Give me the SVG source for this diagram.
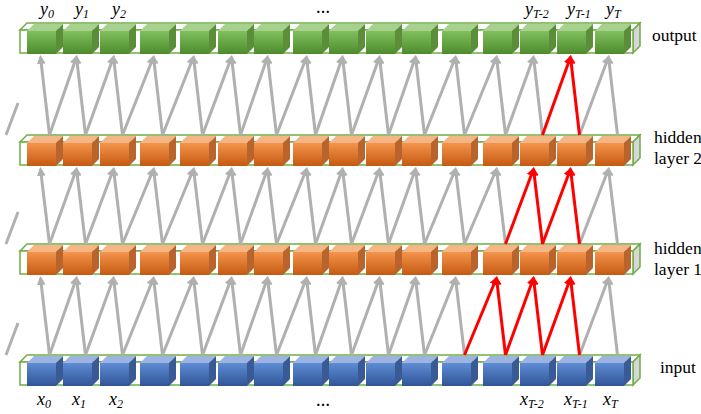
<svg xmlns="http://www.w3.org/2000/svg" xmlns:xlink="http://www.w3.org/1999/xlink" width="701" height="414" viewBox="0 0 701 414">
<defs>
<linearGradient id="gG" x1="0" y1="0" x2="0" y2="1"><stop offset="0" stop-color="#80c05e"/><stop offset="1" stop-color="#4e8a2d"/></linearGradient>
<linearGradient id="gO" x1="0" y1="0" x2="0" y2="1"><stop offset="0" stop-color="#f4944c"/><stop offset="1" stop-color="#c55a11"/></linearGradient>
<linearGradient id="gB" x1="0" y1="0" x2="0" y2="1"><stop offset="0" stop-color="#5f8cd4"/><stop offset="1" stop-color="#2f5597"/></linearGradient>
<g id="cubeG"><polygon points="0,0 7,-7 36,-7 29,0" fill="#a9d18e"/><polygon points="29,0 36,-7 36,16 29,23" fill="#5a8e38"/><rect x="0" y="0" width="29" height="23" fill="url(#gG)"/></g>
<g id="cubeO"><polygon points="0,0 7,-7 36,-7 29,0" fill="#f6b585"/><polygon points="29,0 36,-7 36,16 29,23" fill="#b8642c"/><rect x="0" y="0" width="29" height="23" fill="url(#gO)"/></g>
<g id="cubeB"><polygon points="0,0 7,-7 36,-7 29,0" fill="#9db4e0"/><polygon points="29,0 36,-7 36,16 29,23" fill="#3a5a96"/><rect x="0" y="0" width="29" height="23" fill="url(#gB)"/></g>
<g id="tray"><polygon points="20,-1 27,-8 640,-8 633,-1" fill="#ffffff" stroke="#70ad47" stroke-width="1.5"/><polygon points="633,-1 640,-8 640,15 633,22" fill="#d6d6d6" stroke="#70ad47" stroke-width="1.5"/><rect x="20" y="-1" width="613" height="23" fill="#ffffff" stroke="#70ad47" stroke-width="1.5"/></g>
<marker id="ag" markerUnits="userSpaceOnUse" markerWidth="10" markerHeight="10" refX="7" refY="4.5" orient="auto"><path d="M0,0 L9,4.5 L0,9 Z" fill="#b0b0b0"/></marker>
<marker id="ar" markerUnits="userSpaceOnUse" markerWidth="10" markerHeight="10" refX="7" refY="4.5" orient="auto"><path d="M0,0 L9,4.5 L0,9 Z" fill="#ff0000"/></marker>
</defs>
<style>
.g{stroke:#b0b0b0;stroke-width:3;fill:none;marker-end:url(#ag)}
.s{stroke:#b0b0b0;stroke-width:3;fill:none}
.r{stroke:#ff0000;stroke-width:3;fill:none;marker-end:url(#ar)}
.lbl{font-style:italic;font-size:18px;fill:#000}
.sub{font-size:12px}
.dots{font-size:14px;font-weight:bold;fill:#000}
.nm{font-size:17.5px;fill:#000}
</style>

<g id="row-output" transform="translate(0,31)">
<use xlink:href="#tray"/>
<use id="y1" xlink:href="#cubeG" x="27"/><use id="y2" xlink:href="#cubeG" x="63"/><use id="y3" xlink:href="#cubeG" x="100"/><use id="y4" xlink:href="#cubeG" x="140"/><use id="y5" xlink:href="#cubeG" x="180"/><use id="y6" xlink:href="#cubeG" x="218"/><use id="y7" xlink:href="#cubeG" x="254"/><use id="y8" xlink:href="#cubeG" x="293"/><use id="y9" xlink:href="#cubeG" x="329"/><use id="y10" xlink:href="#cubeG" x="366"/><use id="y11" xlink:href="#cubeG" x="402"/><use id="y12" xlink:href="#cubeG" x="442"/><use id="y13" xlink:href="#cubeG" x="483"/><use id="y14" xlink:href="#cubeG" x="520"/><use id="y15" xlink:href="#cubeG" x="557"/><use id="y16" xlink:href="#cubeG" x="595"/>
</g>
<g id="row-hidden2" transform="translate(0,143)">
<use xlink:href="#tray"/>
<use id="h2-1" xlink:href="#cubeO" x="27"/><use id="h2-2" xlink:href="#cubeO" x="63"/><use id="h2-3" xlink:href="#cubeO" x="100"/><use id="h2-4" xlink:href="#cubeO" x="140"/><use id="h2-5" xlink:href="#cubeO" x="180"/><use id="h2-6" xlink:href="#cubeO" x="218"/><use id="h2-7" xlink:href="#cubeO" x="254"/><use id="h2-8" xlink:href="#cubeO" x="293"/><use id="h2-9" xlink:href="#cubeO" x="329"/><use id="h2-10" xlink:href="#cubeO" x="366"/><use id="h2-11" xlink:href="#cubeO" x="402"/><use id="h2-12" xlink:href="#cubeO" x="442"/><use id="h2-13" xlink:href="#cubeO" x="483"/><use id="h2-14" xlink:href="#cubeO" x="520"/><use id="h2-15" xlink:href="#cubeO" x="557"/><use id="h2-16" xlink:href="#cubeO" x="595"/>
</g>
<g id="row-hidden1" transform="translate(0,252)">
<use xlink:href="#tray"/>
<use id="h1-1" xlink:href="#cubeO" x="27"/><use id="h1-2" xlink:href="#cubeO" x="63"/><use id="h1-3" xlink:href="#cubeO" x="100"/><use id="h1-4" xlink:href="#cubeO" x="140"/><use id="h1-5" xlink:href="#cubeO" x="180"/><use id="h1-6" xlink:href="#cubeO" x="218"/><use id="h1-7" xlink:href="#cubeO" x="254"/><use id="h1-8" xlink:href="#cubeO" x="293"/><use id="h1-9" xlink:href="#cubeO" x="329"/><use id="h1-10" xlink:href="#cubeO" x="366"/><use id="h1-11" xlink:href="#cubeO" x="402"/><use id="h1-12" xlink:href="#cubeO" x="442"/><use id="h1-13" xlink:href="#cubeO" x="483"/><use id="h1-14" xlink:href="#cubeO" x="520"/><use id="h1-15" xlink:href="#cubeO" x="557"/><use id="h1-16" xlink:href="#cubeO" x="595"/>
</g>
<g id="row-input" transform="translate(0,363)">
<use xlink:href="#tray"/>
<use id="x1" xlink:href="#cubeB" x="27"/><use id="x2" xlink:href="#cubeB" x="63"/><use id="x3" xlink:href="#cubeB" x="100"/><use id="x4" xlink:href="#cubeB" x="140"/><use id="x5" xlink:href="#cubeB" x="180"/><use id="x6" xlink:href="#cubeB" x="218"/><use id="x7" xlink:href="#cubeB" x="254"/><use id="x8" xlink:href="#cubeB" x="293"/><use id="x9" xlink:href="#cubeB" x="329"/><use id="x10" xlink:href="#cubeB" x="366"/><use id="x11" xlink:href="#cubeB" x="402"/><use id="x12" xlink:href="#cubeB" x="442"/><use id="x13" xlink:href="#cubeB" x="483"/><use id="x14" xlink:href="#cubeB" x="520"/><use id="x15" xlink:href="#cubeB" x="557"/><use id="x16" xlink:href="#cubeB" x="595"/>
</g>

<g id="connectors">
<g>
<line class="s" x1="6" y1="355" x2="18" y2="323"/>
<line class="g" x1="49.5" y1="355" x2="40.5" y2="278"/><line class="g" x1="85.5" y1="355" x2="76.5" y2="278"/><line class="g" x1="122.5" y1="355" x2="113.5" y2="278"/><line class="g" x1="162.5" y1="355" x2="153.5" y2="278"/><line class="g" x1="202.5" y1="355" x2="193.5" y2="278"/><line class="g" x1="240.5" y1="355" x2="231.5" y2="278"/><line class="g" x1="276.5" y1="355" x2="267.5" y2="278"/><line class="g" x1="315.5" y1="355" x2="306.5" y2="278"/><line class="g" x1="351.5" y1="355" x2="342.5" y2="278"/><line class="g" x1="388.5" y1="355" x2="379.5" y2="278"/><line class="g" x1="424.5" y1="355" x2="415.5" y2="278"/><line class="g" x1="464.5" y1="355" x2="455.5" y2="278"/><line class="g" x1="617.5" y1="355" x2="608.5" y2="278"/>
<line class="g" x1="49.5" y1="355" x2="76.5" y2="278"/><line class="g" x1="85.5" y1="355" x2="113.5" y2="278"/><line class="g" x1="122.5" y1="355" x2="153.5" y2="278"/><line class="g" x1="162.5" y1="355" x2="193.5" y2="278"/><line class="g" x1="202.5" y1="355" x2="231.5" y2="278"/><line class="g" x1="240.5" y1="355" x2="267.5" y2="278"/><line class="g" x1="276.5" y1="355" x2="306.5" y2="278"/><line class="g" x1="315.5" y1="355" x2="342.5" y2="278"/><line class="g" x1="351.5" y1="355" x2="379.5" y2="278"/><line class="g" x1="388.5" y1="355" x2="415.5" y2="278"/><line class="g" x1="424.5" y1="355" x2="455.5" y2="278"/><line class="g" x1="579.5" y1="355" x2="608.5" y2="278"/>
<line class="r" x1="464.5" y1="355" x2="496.5" y2="278"/><line class="r" x1="505.5" y1="355" x2="496.5" y2="278"/><line class="r" x1="505.5" y1="355" x2="533.5" y2="278"/><line class="r" x1="542.5" y1="355" x2="533.5" y2="278"/><line class="r" x1="542.5" y1="355" x2="570.5" y2="278"/><line class="r" x1="579.5" y1="355" x2="570.5" y2="278"/>
</g>
<g>
<line class="s" x1="6" y1="244" x2="18" y2="212"/>
<line class="g" x1="49.5" y1="244" x2="40.5" y2="169"/><line class="g" x1="85.5" y1="244" x2="76.5" y2="169"/><line class="g" x1="122.5" y1="244" x2="113.5" y2="169"/><line class="g" x1="162.5" y1="244" x2="153.5" y2="169"/><line class="g" x1="202.5" y1="244" x2="193.5" y2="169"/><line class="g" x1="240.5" y1="244" x2="231.5" y2="169"/><line class="g" x1="276.5" y1="244" x2="267.5" y2="169"/><line class="g" x1="315.5" y1="244" x2="306.5" y2="169"/><line class="g" x1="351.5" y1="244" x2="342.5" y2="169"/><line class="g" x1="388.5" y1="244" x2="379.5" y2="169"/><line class="g" x1="424.5" y1="244" x2="415.5" y2="169"/><line class="g" x1="464.5" y1="244" x2="455.5" y2="169"/><line class="g" x1="505.5" y1="244" x2="496.5" y2="169"/><line class="g" x1="617.5" y1="244" x2="608.5" y2="169"/>
<line class="g" x1="49.5" y1="244" x2="76.5" y2="169"/><line class="g" x1="85.5" y1="244" x2="113.5" y2="169"/><line class="g" x1="122.5" y1="244" x2="153.5" y2="169"/><line class="g" x1="162.5" y1="244" x2="193.5" y2="169"/><line class="g" x1="202.5" y1="244" x2="231.5" y2="169"/><line class="g" x1="240.5" y1="244" x2="267.5" y2="169"/><line class="g" x1="276.5" y1="244" x2="306.5" y2="169"/><line class="g" x1="315.5" y1="244" x2="342.5" y2="169"/><line class="g" x1="351.5" y1="244" x2="379.5" y2="169"/><line class="g" x1="388.5" y1="244" x2="415.5" y2="169"/><line class="g" x1="424.5" y1="244" x2="455.5" y2="169"/><line class="g" x1="464.5" y1="244" x2="496.5" y2="169"/><line class="g" x1="579.5" y1="244" x2="608.5" y2="169"/>
<line class="r" x1="505.5" y1="244" x2="533.5" y2="169"/><line class="r" x1="542.5" y1="244" x2="533.5" y2="169"/><line class="r" x1="542.5" y1="244" x2="570.5" y2="169"/><line class="r" x1="579.5" y1="244" x2="570.5" y2="169"/>
</g>
<g>
<line class="s" x1="6" y1="135" x2="18" y2="103"/>
<line class="g" x1="49.5" y1="135" x2="40.5" y2="57"/><line class="g" x1="85.5" y1="135" x2="76.5" y2="57"/><line class="g" x1="122.5" y1="135" x2="113.5" y2="57"/><line class="g" x1="162.5" y1="135" x2="153.5" y2="57"/><line class="g" x1="202.5" y1="135" x2="193.5" y2="57"/><line class="g" x1="240.5" y1="135" x2="231.5" y2="57"/><line class="g" x1="276.5" y1="135" x2="267.5" y2="57"/><line class="g" x1="315.5" y1="135" x2="306.5" y2="57"/><line class="g" x1="351.5" y1="135" x2="342.5" y2="57"/><line class="g" x1="388.5" y1="135" x2="379.5" y2="57"/><line class="g" x1="424.5" y1="135" x2="415.5" y2="57"/><line class="g" x1="464.5" y1="135" x2="455.5" y2="57"/><line class="g" x1="505.5" y1="135" x2="496.5" y2="57"/><line class="g" x1="542.5" y1="135" x2="533.5" y2="57"/><line class="g" x1="617.5" y1="135" x2="608.5" y2="57"/>
<line class="g" x1="49.5" y1="135" x2="76.5" y2="57"/><line class="g" x1="85.5" y1="135" x2="113.5" y2="57"/><line class="g" x1="122.5" y1="135" x2="153.5" y2="57"/><line class="g" x1="162.5" y1="135" x2="193.5" y2="57"/><line class="g" x1="202.5" y1="135" x2="231.5" y2="57"/><line class="g" x1="240.5" y1="135" x2="267.5" y2="57"/><line class="g" x1="276.5" y1="135" x2="306.5" y2="57"/><line class="g" x1="315.5" y1="135" x2="342.5" y2="57"/><line class="g" x1="351.5" y1="135" x2="379.5" y2="57"/><line class="g" x1="388.5" y1="135" x2="415.5" y2="57"/><line class="g" x1="424.5" y1="135" x2="455.5" y2="57"/><line class="g" x1="464.5" y1="135" x2="496.5" y2="57"/><line class="g" x1="505.5" y1="135" x2="533.5" y2="57"/><line class="g" x1="579.5" y1="135" x2="608.5" y2="57"/>
<line class="r" x1="542.5" y1="135" x2="570.5" y2="57"/><line class="r" x1="579.5" y1="135" x2="570.5" y2="57"/>
</g>
</g>

<g id="labels-top" font-family="Liberation Serif, DejaVu Serif, serif">
<text class="lbl" x="40" y="15">y<tspan class="sub" dy="3">0</tspan></text>
<text class="lbl" x="75" y="15">y<tspan class="sub" dy="3">1</tspan></text>
<text class="lbl" x="112" y="15">y<tspan class="sub" dy="3">2</tspan></text>
<text class="dots" x="323" y="13" text-anchor="middle">…</text>
<text class="lbl" x="525" y="15">y<tspan class="sub" dy="3">T-2</tspan></text>
<text class="lbl" x="567" y="15">y<tspan class="sub" dy="3">T-1</tspan></text>
<text class="lbl" x="606" y="15">y<tspan class="sub" dy="3">T</tspan></text>
</g>
<g id="labels-bottom" font-family="Liberation Serif, DejaVu Serif, serif">
<text class="lbl" x="37" y="405">x<tspan class="sub" dy="3">0</tspan></text>
<text class="lbl" x="72" y="405">x<tspan class="sub" dy="3">1</tspan></text>
<text class="lbl" x="109" y="405">x<tspan class="sub" dy="3">2</tspan></text>
<text class="dots" x="323" y="406" text-anchor="middle">…</text>
<text class="lbl" x="520" y="405">x<tspan class="sub" dy="3">T-2</tspan></text>
<text class="lbl" x="564" y="405">x<tspan class="sub" dy="3">T-1</tspan></text>
<text class="lbl" x="603" y="405">x<tspan class="sub" dy="3">T</tspan></text>
</g>
<g id="layer-names" font-family="Liberation Serif, DejaVu Serif, serif">
<text class="nm" x="652" y="41">output</text>
<text class="nm" x="654" y="143">hidden</text>
<text class="nm" x="654" y="164">layer 2</text>
<text class="nm" x="654" y="254">hidden</text>
<text class="nm" x="654" y="275">layer 1</text>
<text class="nm" x="660" y="373">input</text>
</g>
</svg>
